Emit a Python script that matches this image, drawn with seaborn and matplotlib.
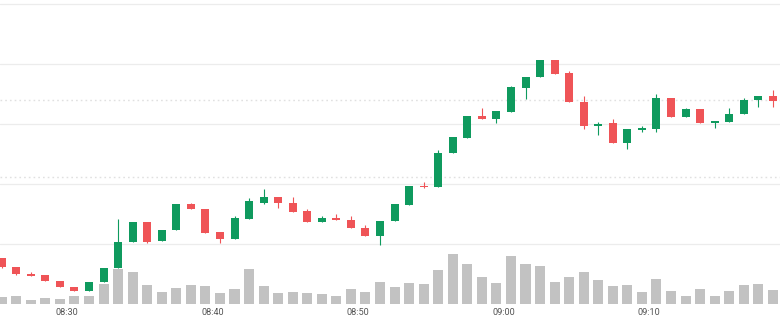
import matplotlib
matplotlib.use("Agg")
import matplotlib.pyplot as plt
import seaborn as sns
import numpy as np
import pandas as pd

# ---- data ----
times = ["08:25", "08:26", "08:27", "08:28", "08:29", "08:30", "08:31", "08:32", "08:33", "08:34",
         "08:35", "08:36", "08:37", "08:38", "08:39", "08:40", "08:41", "08:42", "08:43", "08:44",
         "08:45", "08:46", "08:47", "08:48", "08:49", "08:50", "08:51", "08:52", "08:53", "08:54",
         "08:55", "08:56", "08:57", "08:58", "08:59", "09:00", "09:01", "09:02", "09:03", "09:04",
         "09:05", "09:06", "09:07", "09:08", "09:09", "09:10", "09:11", "09:12", "09:13", "09:14",
         "09:15", "09:16", "09:17", "09:18"]
open_ = [9.76, 9.61, 9.50, 9.48, 9.38, 9.28, 9.21, 9.37, 9.60, 10.03,
         10.36, 10.05, 10.23, 10.67, 10.59, 10.20, 10.09, 10.42, 10.69, 10.79,
         10.68, 10.55, 10.37, 10.44, 10.40, 10.26, 10.14, 10.38, 10.65, 10.97,
         10.95, 11.51, 11.77, 12.13, 12.08, 12.20, 12.60, 12.78, 13.06, 12.85,
         12.36, 11.96, 12.01, 11.68, 11.90, 11.92, 12.43, 12.12, 12.25, 12.02,
         12.04, 12.16, 12.40, 12.47]
high = [9.77, 9.62, 9.54, 9.48, 9.39, 9.28, 9.37, 9.60, 10.41, 10.36,
        10.36, 10.23, 10.67, 10.68, 10.59, 10.20, 10.46, 10.76, 10.91, 10.79,
        10.79, 10.58, 10.46, 10.50, 10.47, 10.32, 10.38, 10.66, 10.97, 11.03,
        11.57, 11.78, 12.13, 12.26, 12.21, 12.63, 12.79, 13.06, 13.06, 12.89,
        12.47, 12.03, 12.08, 11.91, 11.96, 12.50, 12.43, 12.26, 12.25, 12.05,
        12.26, 12.43, 12.47, 12.56]
low = [9.60, 9.49, 9.47, 9.38, 9.28, 9.21, 9.21, 9.37, 9.60, 10.03,
       10.02, 10.05, 10.23, 10.58, 10.18, 10.02, 10.09, 10.42, 10.67, 10.60,
       10.53, 10.37, 10.37, 10.40, 10.26, 10.14, 9.99, 10.38, 10.65, 10.93,
       10.95, 11.51, 11.77, 12.08, 12.01, 12.20, 12.42, 12.78, 12.84, 12.36,
       11.91, 11.81, 11.68, 11.59, 11.87, 11.86, 12.12, 12.12, 12.02, 11.93,
       12.04, 12.16, 12.29, 12.29]
close = [9.61, 9.50, 9.47, 9.38, 9.28, 9.21, 9.37, 9.60, 10.03, 10.36,
         10.04, 10.23, 10.67, 10.58, 10.18, 10.09, 10.43, 10.71, 10.79, 10.68,
         10.53, 10.37, 10.44, 10.40, 10.26, 10.14, 10.38, 10.66, 10.97, 10.95,
         11.51, 11.78, 12.13, 12.08, 12.21, 12.61, 12.79, 13.06, 12.84, 12.36,
         11.96, 12.00, 11.68, 11.91, 11.93, 12.43, 12.12, 12.25, 12.02, 12.05,
         12.17, 12.40, 12.47, 12.38]
volume = [700, 800, 430, 600, 500, 770, 830, 2030, 3530, 3230,
          1930, 1230, 1600, 1870, 1770, 1130, 1470, 3530, 1770, 1070,
          1200, 1130, 1000, 800, 1470, 1200, 2230, 1730, 2070, 1970,
          3370, 4970, 4000, 2670, 2130, 4830, 3970, 3800, 2170, 2730,
          3230, 2370, 1830, 1870, 1230, 2530, 1300, 800, 1470, 830,
          1300, 1900, 1970, 1400]
tick_labels = ["08:30", "08:40", "08:50", "09:00", "09:10"]
ref_levels = [12.40, 11.11]
grid_levels = [10, 11, 12, 13, 14]

# ---- style ----
sns.set_theme(style="white")
plt.rcParams["font.family"] = ["Roboto", "DejaVu Sans"]

UP = "#0f9a5e"
DOWN = "#ef5457"
VOL = "#c2c2c2"

df = pd.DataFrame({"time": times, "open": open_, "high": high, "low": low,
                   "close": close, "volume": volume})
df["idx"] = np.arange(len(df))
df["color"] = np.where(df["close"] >= df["open"], UP, DOWN)

W, H = 780, 321
fig = plt.figure(figsize=(W / 100, H / 100), dpi=100)
rect = [0, 17 / H, 1, 304 / H]

# volume pane (behind)
vax = fig.add_axes(rect)
sns.barplot(data=df, x="idx", y="volume", native_scale=True, color=VOL,
            saturation=1, width=0.69, errorbar=None, linewidth=0, ax=vax)
vax.set_ylim(0, max(volume) * 6.12)
vax.set_axis_off()

# price pane (front, transparent)
ax = fig.add_axes(rect, sharex=vax)
ax.patch.set_alpha(0)
for g in grid_levels:
    ax.axhline(g, color="#ececec", linewidth=0.9, zorder=0)
for r in ref_levels:
    ax.axhline(r, color="#e0e0e0", linewidth=1.0, linestyle=(0, (1.2, 2.2)), zorder=0)

body_lo = np.minimum(df["open"], df["close"])
body_h = np.maximum(np.abs(df["close"] - df["open"]), 0.018)
ax.vlines(df["idx"], df["low"], df["high"], colors=df["color"], linewidth=0.8, zorder=2)
ax.bar(df["idx"], body_h, bottom=body_lo, width=0.55, color=df["color"],
       linewidth=0, zorder=3)

ax.set_ylim(9.0, 14.0667)
ax.set_xlim(-0.117, 53.49)
for s in ax.spines.values():
    s.set_visible(False)
ax.set_yticks([])
tick_pos = [times.index(t) - 0.5 for t in tick_labels]
ax.set_xticks(tick_pos)
ax.set_xticklabels(tick_labels)
ax.tick_params(axis="x", length=0, pad=2.6, labelsize=6.6, labelcolor="#555555")
ax.set_xlabel("")
ax.set_ylabel("")

fig.savefig("out.png", dpi=100)
